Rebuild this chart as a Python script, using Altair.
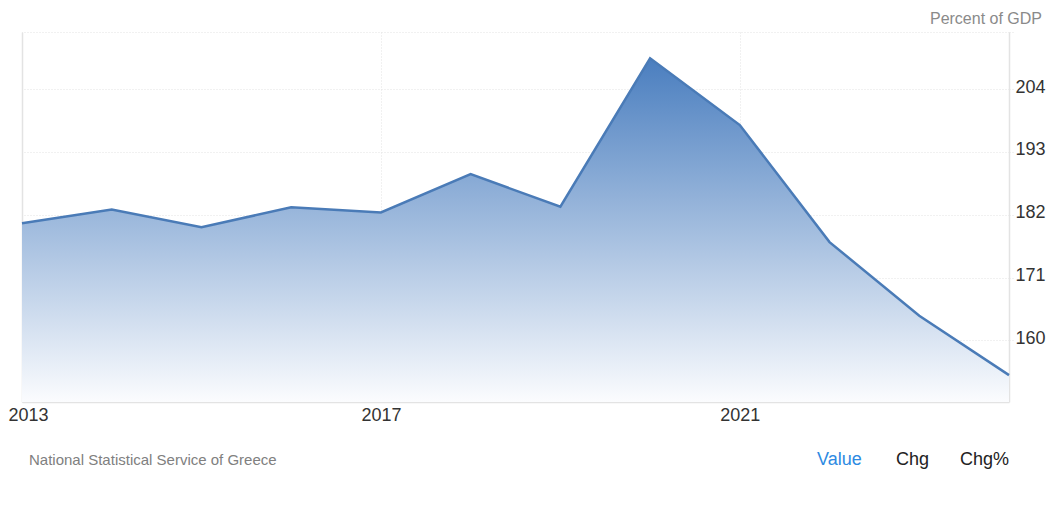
import altair as alt
import pandas as pd

years = [2013, 2014, 2015, 2016, 2017, 2018, 2019, 2020, 2021, 2022, 2023, 2024]
values = [180.5, 182.9, 179.8, 183.3, 182.4, 189.1, 183.4, 209.4, 197.7, 177.2, 164.3, 153.9]
y_ticks = [160, 171, 182, 193, 204]
x_ticks = [2013, 2017, 2021]
y_domain = [149.2, 214]
x_domain = [2013, 2024]

df = pd.DataFrame({"year": years, "value": values})

FONT = "Liberation Sans"
GRID = "#e3e3e3"

x_enc = alt.X(
    "year:Q",
    scale=alt.Scale(domain=x_domain, nice=False, zero=False),
    axis=alt.Axis(
        values=x_ticks, format="d", title=None, grid=True, gridColor=GRID,
        gridDash=[1, 2], domainColor=GRID, domainWidth=1.5, ticks=False,
        labelPadding=4, labelFontSize=18, labelColor="#333333", labelFont=FONT,
        labelFlush=True, labelFlushOffset=14,
    ),
)

y_scale = alt.Scale(domain=y_domain, nice=False, zero=False)

gradient = alt.Gradient(
    gradient="linear",
    stops=[alt.GradientStop(color="#4a7ebf", offset=0),
           alt.GradientStop(color="#fbfcfe", offset=1)],
    x1=1, x2=1, y1=0, y2=1,
)

area = alt.Chart(df).mark_area(color=gradient).encode(
    x=x_enc,
    y=alt.Y(
        "value:Q", scale=y_scale,
        axis=alt.Axis(
            orient="right", values=y_ticks + [y_domain[1]], title=None,
            labelExpr="datum.value > 210 ? '' : datum.label",
            grid=True, gridColor=GRID, gridDash=[1, 2],
            domainColor=GRID, domainWidth=1.5,
            ticks=True, tickColor=GRID, tickDash=[1, 2], tickSize=6,
            labelPadding=0, labelFontSize=18, labelColor="#333333", labelFont=FONT,
            labelOffset=-2,
        ),
    ),
    y2=alt.datum(y_domain[0]),
)

line = alt.Chart(df).mark_line(color="#4a7bb7", strokeWidth=2.5).encode(
    x=x_enc,
    y=alt.Y(
        "value:Q", scale=y_scale,
        axis=alt.Axis(orient="left", title=None, labels=False, ticks=False,
                      grid=False, domainColor=GRID, domainWidth=1.5),
    ),
)

blank = alt.Data(values=[{"a": 1}])

def label(text, x, y, size, color, align="left", baseline="middle"):
    return alt.Chart(blank).mark_text(
        text=text, font=FONT, fontSize=size, color=color, align=align, baseline=baseline,
    ).encode(x=alt.value(x), y=alt.value(y))

texts = [
    label("Percent of GDP", 1020, -8, 16, "#8a8a8a", align="right", baseline="alphabetic"),
    label("National Statistical Service of Greece", 7, 428, 15, "#808080"),
    label("Value", 795, 428, 18, "#2d8ae2"),
    label("Chg", 874, 428, 18, "#222222"),
    label("Chg%", 938, 428, 18, "#222222"),
]

chart = alt.layer(area, line, *texts).resolve_axis(y="independent").properties(
    width=987,
    height=370,
    autosize=alt.AutoSizeParams(type="none"),
    padding={"left": 14, "top": 24, "right": 42, "bottom": 80},
    background="white",
).configure_view(stroke=None)

chart.save("out.html", embed_options={"renderer": "svg", "actions": False})
